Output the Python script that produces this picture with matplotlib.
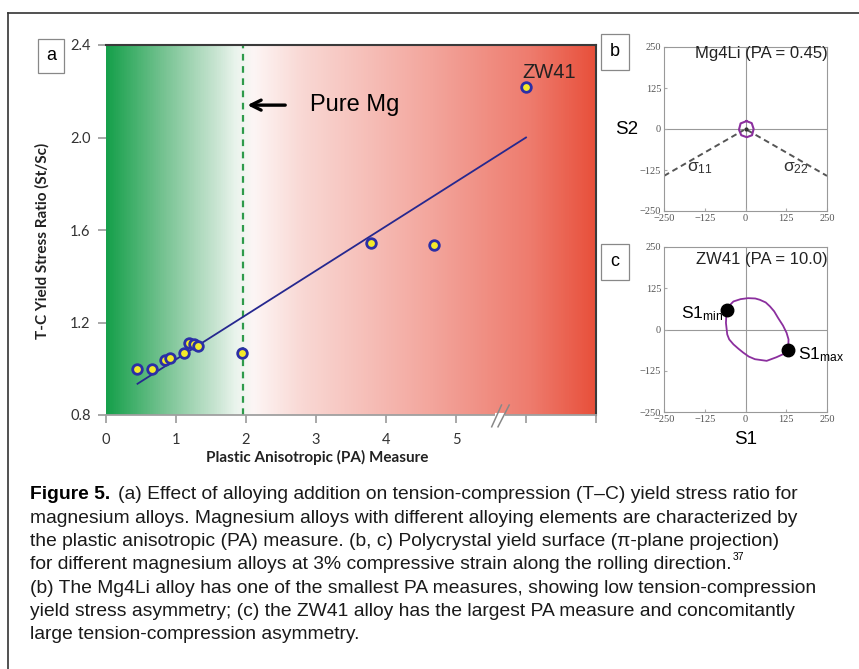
import numpy as np
import matplotlib
matplotlib.use('Agg')
import matplotlib.pyplot as plt
from matplotlib.colors import LinearSegmentedColormap
from matplotlib.lines import Line2D

plt.rcParams['font.family'] = ['Liberation Sans', 'DejaVu Sans']
plt.rcParams['mathtext.fontset'] = 'custom'
plt.rcParams['mathtext.rm'] = 'Liberation Sans'
plt.rcParams['mathtext.it'] = 'Liberation Sans'

# ---- data: panel a (PA measure vs T-C yield stress ratio)
pa = [0.44, 0.66, 0.84, 0.92, 1.12, 1.19, 1.25, 1.32, 1.94, 3.79, 4.68, 6.0]
ratio = [1.0, 1.0, 1.04, 1.045, 1.07, 1.11, 1.107, 1.10, 1.07, 1.545, 1.535, 2.22]
fit_x = [0.45, 6.0]
fit_y = [0.935, 2.0]
pure_mg_pa = 1.95
a_xticks = [0, 1, 2, 3, 4, 5, 6, 7]
a_xticklabels = ['0', '1', '2', '3', '4', '5', '', '']
a_yticks = [0.8, 1.2, 1.6, 2.0, 2.4]

# ---- data: panel b (Mg4Li yield surface)
b_loop_s1 = [3, 19, 25, 20, 4, -13, -20, -15, 3]
b_loop_s2 = [24, 18, 0, -19, -25, -19, -2, 17, 24]
b_sig11_s1 = [-250, -5]
b_sig11_s2 = [-143, -3]
b_sig22_s1 = [5, 250]
b_sig22_s2 = [-3, -143]

# ---- data: panel c (ZW41 yield surface)
c_loop_s1 = [-58, -47, -37, -15, 8, 30, 44, 62, 75, 88, 100, 115, 126, 132, 131,
             115, 95, 65, 29, 10, -7, -22, -37, -50, -56, -60, -58]
c_loop_s2 = [58, 75, 85, 92, 95, 94, 90, 82, 70, 55, 35, 12, -10, -30, -63,
             -75, -84, -95, -90, -82, -70, -58, -45, -30, -15, 20, 58]
c_min = (-58, 58)
c_max = (131, -63)
bc_ticks = [-250, -125, 0, 125, 250]
bc_ticklabels = ['\u2212250', '\u2212125', '0', '125', '250']

caption = [
    "(a) Effect of alloying addition on tension-compression (T\u2013C) yield stress ratio for",
    "magnesium alloys. Magnesium alloys with different alloying elements are characterized by",
    "the plastic anisotropic (PA) measure. (b, c) Polycrystal yield surface (\u03c0-plane projection)",
    "for different magnesium alloys at 3% compressive strain along the rolling direction.",
    "(b) The Mg4Li alloy has one of the smallest PA measures, showing low tension-compression",
    "yield stress asymmetry; (c) the ZW41 alloy has the largest PA measure and concomitantly",
    "large tension-compression asymmetry.",
]

W, H = 859, 669
fig = plt.figure(figsize=(W / 100, H / 100), dpi=100)


def fx(x):
    return x / W


def fy(y):
    return 1 - y / H


# outer frame
fig.add_artist(Line2D([fx(8), 1], [fy(13), fy(13)], color='#333333', lw=1.2))
fig.add_artist(Line2D([fx(8), fx(8)], [fy(13), 0], color='#333333', lw=1.2))

# ================= panel a
ax = fig.add_axes([fx(106), fy(415), (596 - 106) / W, (415 - 45) / H])
cmap = LinearSegmentedColormap.from_list('gr', [
    (0.0, '#16a04b'), (0.123, '#7cc596'), (0.224, '#c9e5d2'), (0.264, '#eaf4ed'),
    (0.30, '#fdf6f5'), (0.40, '#f9d8d4'), (0.667, '#f3a59c'), (0.87, '#ee7b6d'),
    (1.0, '#e8503b')])
ax.imshow(np.linspace(0, 1, 600).reshape(1, -1), cmap=cmap, aspect='auto',
          extent=[0, 7, 0.8, 2.4], zorder=0)
ax.set_xlim(0, 7)
ax.set_ylim(0.8, 2.4)
ax.axvline(pure_mg_pa, color='#2e9a4a', lw=1.6, ls=(0, (3, 2.5)), zorder=2)
ax.plot(fit_x, fit_y, color='#26288f', lw=1.3, zorder=3)
ax.scatter(pa, ratio, s=48, facecolor='#f4ea2a', edgecolor='#2b2fa6', lw=2.0, zorder=4)
ax.annotate('', xy=(pure_mg_pa + 0.03, 2.14), xytext=(2.6, 2.14),
            arrowprops=dict(arrowstyle='->', lw=2.4, color='black', mutation_scale=18))
ax.text(2.92, 2.14, 'Pure Mg', fontsize=17, va='center', ha='left')
ax.text(5.95, 2.28, 'ZW41', fontsize=14.5, va='center', ha='left', color='#222222')

ax.set_xticks(a_xticks)
ax.set_xticklabels(a_xticklabels)
ax.set_yticks(a_yticks)
ax.set_yticklabels(['0.8', '1.2', '1.6', '2.0', '2.4'])
for lab in ax.get_xticklabels() + ax.get_yticklabels():
    lab.set_family('Lato')
ax.tick_params(axis='both', labelsize=10.5, colors='#999999', labelcolor='#333333',
               length=6, width=1.2, direction='out')
ax.tick_params(axis='x', pad=7)
ax.tick_params(axis='y', pad=5)
ax.spines['left'].set_visible(False)
ax.spines['bottom'].set_color('#a0a0a0')
ax.spines['bottom'].set_linewidth(1.3)
for s in ['top', 'right']:
    ax.spines[s].set_color('#3a3a3a')
    ax.spines[s].set_linewidth(1.5)
ax.set_xlabel('Plastic Anisotropic (PA) Measure', family='Lato', fontweight='bold',
              fontsize=11, color='#222222')
ax.xaxis.set_label_coords(0.43, -0.095)
ax.set_ylabel('T-C Yield Stress Ratio (St/Sc)', family='Lato', fontweight='bold',
              fontsize=11, color='#222222')
ax.yaxis.set_label_coords(-0.116, 0.47)

# axis break marks
ax.plot([5.55, 5.70], [0.8, 0.8], color='white', lw=3, clip_on=False, zorder=6,
        solid_capstyle='butt')
ax.plot([5.51, 5.65], [0.749, 0.843], color='#888888', lw=1.1, clip_on=False, zorder=7)
ax.plot([5.60, 5.76], [0.749, 0.843], color='#888888', lw=1.1, clip_on=False, zorder=7)

fig.text(fx(51), fy(56), 'a', fontsize=13, ha='center', va='center',
         bbox=dict(boxstyle='square,pad=0.45', fc='white', ec='#888888', lw=0.9))


def style_small(axs):
    axs.set_xlim(-250, 250)
    axs.set_ylim(-250, 250)
    axs.set_xticks(bc_ticks)
    axs.set_yticks(bc_ticks)
    axs.set_xticklabels(bc_ticklabels)
    axs.set_yticklabels(bc_ticklabels)
    for lab in axs.get_xticklabels() + axs.get_yticklabels():
        lab.set_family('Liberation Serif')
    axs.tick_params(labelsize=7.5, labelcolor='#555555', colors='#aaaaaa',
                    length=2, direction='in', pad=2)
    for s in axs.spines.values():
        s.set_color('#999999')
        s.set_linewidth(0.8)
    axs.axhline(0, color='#999999', lw=0.8, zorder=1)
    axs.axvline(0, color='#999999', lw=0.8, zorder=1)


# ================= panel b
axb = fig.add_axes([fx(664), fy(211), 163 / W, 164 / H])
style_small(axb)
axb.plot(b_sig11_s1, b_sig11_s2, color='#555555', lw=1.4, ls=(0, (3, 2)), zorder=2)
axb.plot(b_sig22_s1, b_sig22_s2, color='#555555', lw=1.4, ls=(0, (3, 2)), zorder=2)
axb.plot(b_loop_s1, b_loop_s2, color='#8b2f9e', lw=1.5, zorder=3)
axb.plot([0], [0], marker='o', ms=2, color='#333333', zorder=4)
axb.text(-139, -120, r'$\sigma_{11}$', fontsize=12.5, ha='center', va='center', color='#333333')
axb.text(155, -120, r'$\sigma_{22}$', fontsize=12.5, ha='center', va='center', color='#333333')
axb.text(1.005, 0.963, 'Mg4Li (PA = 0.45)', transform=axb.transAxes, fontsize=12,
         ha='right', va='center', color='#222222')
fig.text(fx(627), fy(130), 'S2', fontsize=13.5, ha='center', va='center')
fig.text(fx(615), fy(52), 'b', fontsize=13, ha='center', va='center',
         bbox=dict(boxstyle='square,pad=0.5', fc='white', ec='#888888', lw=0.9))

# ================= panel c
axc = fig.add_axes([fx(664), fy(412), 163 / W, 165 / H])
style_small(axc)
axc.plot(c_loop_s1, c_loop_s2, color='#8b2f9e', lw=1.3, zorder=3)
axc.plot(*c_min, marker='o', ms=9, color='black', zorder=4)
axc.plot(*c_max, marker='o', ms=9, color='black', zorder=4)
axc.text(-68, 48, r'S1$_{\rm min}$', fontsize=12.5, ha='right', va='center')
axc.text(160, -75, r'S1$_{\rm max}$', fontsize=12.5, ha='left', va='center')
axc.text(1.005, 0.927, 'ZW41 (PA = 10.0)', transform=axc.transAxes, fontsize=12,
         ha='right', va='center', color='#222222')
fig.text(fx(746), fy(440), 'S1', fontsize=13.5, ha='center', va='center')
fig.text(fx(615), fy(262), 'c', fontsize=13, ha='center', va='center',
         bbox=dict(boxstyle='square,pad=0.5', fc='white', ec='#888888', lw=0.9))

# ================= caption
line_y = [493, 517, 540, 563, 587, 610, 633]
cap_size = 13.9
fig.canvas.draw()
r = fig.canvas.get_renderer()
t0 = fig.text(fx(30), fy(line_y[0] + 6), 'Figure 5.', fontsize=cap_size,
              fontweight='bold', va='baseline', ha='left')
bb = t0.get_window_extent(renderer=r)
fig.text(bb.x1 / W + fx(8), fy(line_y[0] + 6), caption[0], fontsize=cap_size,
         va='baseline', ha='left', color='#1a1a1a')
for i in range(1, len(caption)):
    t = fig.text(fx(30), fy(line_y[i] + 6), caption[i], fontsize=cap_size,
                 va='baseline', ha='left', color='#1a1a1a')
    if i == 3:
        bb3 = t.get_window_extent(renderer=r)
        fig.text(bb3.x1 / W + fx(1), fy(line_y[i] - 3), '37', fontsize=7.5,
                 va='baseline', ha='left')

fig.savefig('out.png', dpi=100)
